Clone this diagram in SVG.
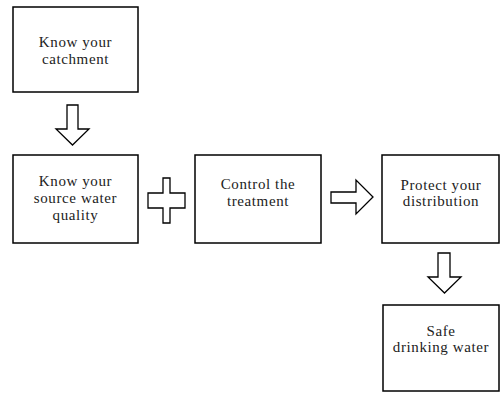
<svg xmlns="http://www.w3.org/2000/svg" width="501" height="393" viewBox="0 0 501 393">
<style>
.box{fill:#fff;stroke:#000;stroke-width:1.5}
.conn{fill:#fff;stroke:#000;stroke-width:1.3;stroke-linejoin:miter}
</style>
<rect width="501" height="393" fill="#fff"/>
<g id="connectors">
<path class="conn" d="M67,105 H78 V129 H89 L72.5,145 L56,129 H67 Z"/>
<path class="conn" d="M163,178 H170 V193 H185 V208 H170 V223 H163 V208 H148 V193 H163 Z"/>
<path class="conn" d="M331,192 H356 V180 L373,197 L356,214 V203 H331 Z"/>
<path class="conn" d="M438,253 H450 V277 H461 L444.5,293 L428,277 H438 Z"/>
</g>
<g id="catchment">
<rect class="box" x="13" y="7" width="125" height="85"/>
<text x="75.5" y="47" font-family="Liberation Serif" font-size="15" fill="#222" text-anchor="middle" letter-spacing="0.6">Know your</text>
<text x="75.5" y="64" font-family="Liberation Serif" font-size="15" fill="#222" text-anchor="middle" letter-spacing="0.6">catchment</text>
</g>
<g id="source">
<rect class="box" x="13" y="155" width="125" height="88"/>
<text x="75.5" y="186" font-family="Liberation Serif" font-size="15" fill="#222" text-anchor="middle" letter-spacing="0.6">Know your</text>
<text x="75.5" y="203" font-family="Liberation Serif" font-size="15" fill="#222" text-anchor="middle" letter-spacing="0.6">source water</text>
<text x="75.5" y="220" font-family="Liberation Serif" font-size="15" fill="#222" text-anchor="middle" letter-spacing="0.6">quality</text>
</g>
<g id="treatment">
<rect class="box" x="195" y="155" width="126" height="88"/>
<text x="258" y="189" font-family="Liberation Serif" font-size="15" fill="#222" text-anchor="middle" letter-spacing="0.6">Control the</text>
<text x="258" y="206" font-family="Liberation Serif" font-size="15" fill="#222" text-anchor="middle" letter-spacing="0.6">treatment</text>
</g>
<g id="distribution">
<rect class="box" x="382" y="155" width="117" height="88"/>
<text x="441" y="190" font-family="Liberation Serif" font-size="15" fill="#222" text-anchor="middle" letter-spacing="0.6">Protect your</text>
<text x="441" y="206" font-family="Liberation Serif" font-size="15" fill="#222" text-anchor="middle" letter-spacing="0.6">distribution</text>
</g>
<g id="safe">
<rect class="box" x="383" y="305" width="116" height="86"/>
<text x="441" y="336" font-family="Liberation Serif" font-size="15" fill="#222" text-anchor="middle" letter-spacing="0.6">Safe</text>
<text x="441" y="352" font-family="Liberation Serif" font-size="15" fill="#222" text-anchor="middle" letter-spacing="0.6">drinking water</text>
</g>
</svg>
